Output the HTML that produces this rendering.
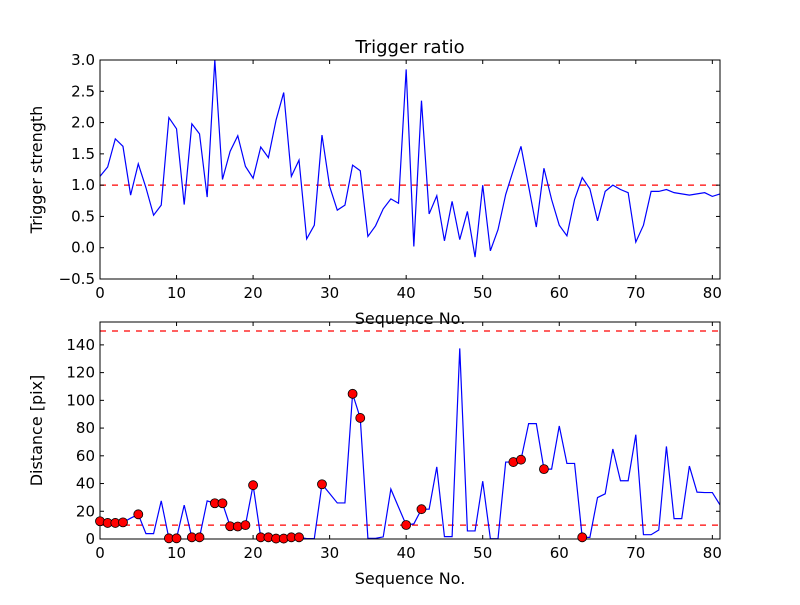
<!DOCTYPE html>
<html><head><meta charset="utf-8"><style>
body{margin:0;background:#fff}
svg text{font-family:"DejaVu Sans","Liberation Sans",sans-serif;fill:#000}
</style></head><body>
<svg id="chart" width="800" height="600" xmlns="http://www.w3.org/2000/svg">
<rect width="800" height="600" fill="#fff"/>
</svg>
<script>
const ratioValues=[1.14,1.29,1.74,1.62,0.84,1.34,0.96,0.52,0.68,2.08,1.90,0.69,1.98,1.82,0.81,3.0,1.09,1.54,1.79,1.30,1.11,1.61,1.44,2.04,2.48,1.14,1.40,0.14,0.36,1.80,0.98,0.60,0.68,1.32,1.23,0.18,0.35,0.62,0.78,0.71,2.85,0.02,2.35,0.54,0.83,0.11,0.74,0.13,0.58,-0.15,1.0,-0.05,0.29,0.85,1.24,1.62,0.98,0.33,1.27,0.77,0.36,0.19,0.77,1.12,0.94,0.43,0.90,1.0,0.93,0.88,0.09,0.36,0.90,0.90,0.93,0.88,0.86,0.84,0.86,0.88,0.82,0.86];
const distValues=[12.8,11.6,11.6,12,15,17.8,3.9,3.9,27.5,0.5,0.5,24.4,1.2,1.2,27.5,25.8,25.8,9.2,9,10,38.8,1.2,1.2,0.3,0.3,1.2,1.2,0.3,0.3,39.5,32.8,26,26,104.7,87.3,0.5,0.5,1.5,36,23,10.1,10.9,21.5,21.5,52,1.7,1.7,137.5,5.8,5.8,41.7,0.2,0.2,55.5,55.5,57.2,83.2,83.2,50.4,50.4,81.5,54.5,54.5,1.2,1.2,29.9,32.6,64.9,42,42,75.2,3.1,3.1,6.5,66.8,14.7,14.7,52.6,33.8,33.5,33.5,24.6];
const flaggedIdx=[0,1,2,3,5,9,10,12,13,15,16,17,18,19,20,21,22,23,24,25,26,29,33,34,40,42,54,55,58,63];
const ratioThreshold=[1.0];
const distThresholds=[10,150];
const xTicks=[0,10,20,30,40,50,60,70,80];
const ratioTicks=[-0.5,0.0,0.5,1.0,1.5,2.0,2.5,3.0];
const distTicks=[0,20,40,60,80,100,120,140];

const NS="http://www.w3.org/2000/svg";
const svg=document.getElementById('chart');
function mk(tag,attrs,parent,text){const e=document.createElementNS(NS,tag);for(const k in attrs)e.setAttribute(k,attrs[k]);if(text!==undefined)e.textContent=text;(parent||svg).appendChild(e);return e;}
const L=100,R=720;
const xs=v=>L+(v-0)/(81-0)*(R-L);
function panel(name,top,bottom,ymin,ymax,yTicks,fmt,values,thresholds,ylabel,title){
  const ys=v=>bottom-(v-ymin)/(ymax-ymin)*(bottom-top);
  const g=mk('g',{});
  
  
  thresholds.forEach(t=>{
    const l=mk('line',{x1:L,x2:R,y1:ys(t),y2:ys(t),stroke:'#ff0000','stroke-width':1.2,'stroke-dasharray':'6,6'},g);
    
    
  });
  const pts=values.map((v,i)=>xs(i).toFixed(2)+','+ys(v).toFixed(2)).join(' ');
  const pl=mk('polyline',{points:pts,fill:'none',stroke:'#0000ff','stroke-width':1.2},g);
  
  
  const ax=mk('rect',{x:L,y:top,width:R-L,height:bottom-top,fill:'none',stroke:'#000','stroke-width':1},g);
  
  
  xTicks.forEach(t=>{
    const x=xs(t);
    mk('line',{x1:x,x2:x,y1:bottom,y2:bottom-4,stroke:'#000'},g);
    mk('line',{x1:x,x2:x,y1:top,y2:top+4,stroke:'#000'},g);
    const tx=mk('text',{x:x,y:bottom+19,'font-size':15,'text-anchor':'middle'},g,String(t));
    
    
  });
  yTicks.forEach(t=>{
    const y=ys(t);
    mk('line',{x1:L,x2:L+4,y1:y,y2:y,stroke:'#000'},g);
    mk('line',{x1:R,x2:R-4,y1:y,y2:y,stroke:'#000'},g);
    const tx=mk('text',{x:L-5,y:y+5,'font-size':15,'text-anchor':'end'},g,fmt(t));
    
    
  });
  const xl=mk('text',{x:410,y:bottom+45,'font-size':16,'text-anchor':'middle'},g,'Sequence No.');
  
  
  const yl=mk('text',{x:0,y:0,'font-size':16,'text-anchor':'middle',transform:`translate(${L-58},${(top+bottom)/2}) rotate(-90)`},g,ylabel);
  
  
  if(title){const tt=mk('text',{x:410,y:top-7,'font-size':18,'text-anchor':'middle'},g,title);
    
    }
  return ys;
}
const fmtR=t=>(t<0?'\u2212':'')+Math.abs(t).toFixed(1);
panel('ratio-panel',60,279,-0.5,3.0,ratioTicks,fmtR,ratioValues,ratioThreshold,'Trigger strength','Trigger ratio');
const ys2=panel('distance-panel',322,539,0,156.5,distTicks,t=>String(t),distValues,distThresholds,'Distance [pix]',null);
flaggedIdx.forEach(i=>{
  const c=mk('circle',{cx:xs(i),cy:ys2(distValues[i]),r:4.5,fill:'#ff0000',stroke:'#000','stroke-width':0.8});
  
  
});
</script>
</body></html>
